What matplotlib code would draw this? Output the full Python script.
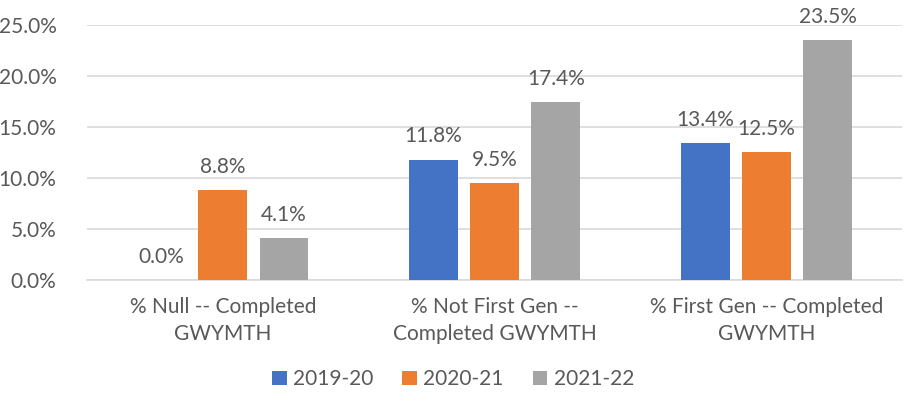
import matplotlib.pyplot as plt
import numpy as np

categorias = ['% Null -- Completed\nGWYMTH',
              '% Not First Gen --\nCompleted GWYMTH',
              '% First Gen -- Completed\nGWYMTH']
series = ['2019-20', '2020-21', '2021-22']
valores_1920 = [0.0, 11.8, 13.4]
valores_2021 = [8.8, 9.5, 12.5]
valores_2122 = [4.1, 17.4, 23.5]
colores = ['#4472C4', '#ED7D31', '#A5A5A5']

plt.rcParams['font.family'] = ['Lato', 'DejaVu Sans']
gris_texto = '#595959'

fig = plt.figure(figsize=(9.06, 4.08), dpi=100)
ax = fig.add_axes([0.096, 0.314, 0.9, 0.625])

x = np.arange(len(categorias))
ancho = 0.18
paso = 0.225
for i, (nombre, vals) in enumerate(zip(series, [valores_1920, valores_2021, valores_2122])):
    barras = ax.bar(x + (i - 1) * paso, vals, ancho, color=colores[i], label=nombre, zorder=3)
    for b, v in zip(barras, vals):
        ax.text(b.get_x() + b.get_width() / 2, v + 1.3, f'{v:.1f}%', ha='center', va='bottom',
                fontsize=15, color=gris_texto, clip_on=False)

ax.set_xlim(-0.5, 2.5)
ax.set_ylim(0, 25)
ax.set_yticks(np.arange(0, 26, 5))
ax.set_yticklabels([f'{t:.1f}%' for t in np.arange(0, 26, 5)])
ax.set_xticks(x)
ax.set_xticklabels(categorias, linespacing=1.45)
ax.grid(axis='y', color='#D9D9D9', linewidth=1.2, zorder=0)
for s in ['top', 'right', 'left']:
    ax.spines[s].set_visible(False)
ax.spines['bottom'].set_color('#D9D9D9')
ax.spines['bottom'].set_linewidth(1.2)
ax.tick_params(axis='both', length=0, labelsize=15, colors=gris_texto)
ax.tick_params(axis='y', pad=22)
ax.tick_params(axis='x', pad=12)

fig.legend(loc='lower center', bbox_to_anchor=(0.5, 0.0), ncol=3, frameon=False,
           fontsize=15, labelcolor=gris_texto, handlelength=0.7, handleheight=0.7,
           handletextpad=0.3, columnspacing=1.4)

plt.savefig('out.png', dpi=100)
